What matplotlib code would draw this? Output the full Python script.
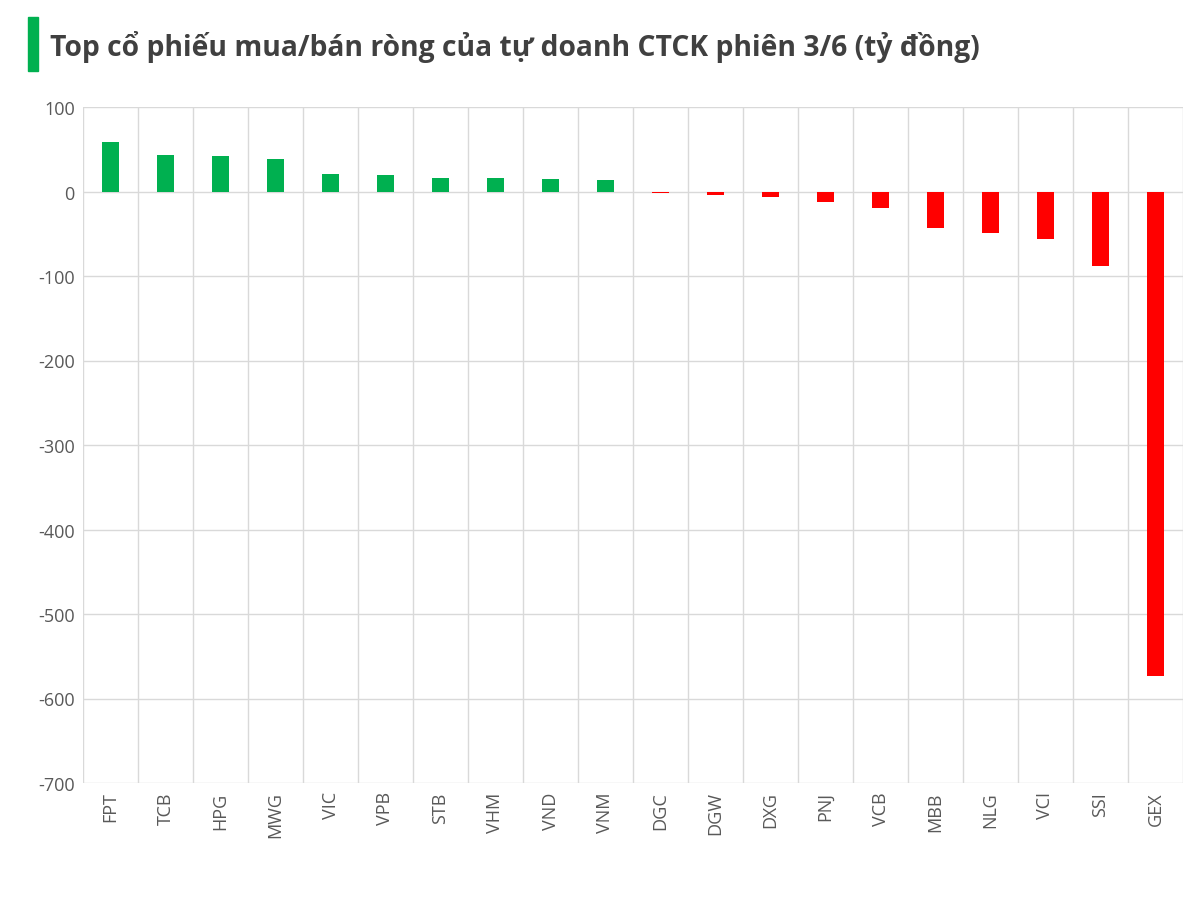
import matplotlib
matplotlib.use("Agg")
import matplotlib.pyplot as plt
from matplotlib.patches import Rectangle
import numpy as np

categories = ["FPT","TCB","HPG","MWG","VIC","VPB","STB","VHM","VND","VNM",
              "DGC","DGW","DXG","PNJ","VCB","MBB","NLG","VCI","SSI","GEX"]
values = [59,43,42,38,21,20,16,16,15,14,-2,-4,-6,-12,-20,-43,-49,-56,-88,-573]
yticks = [100,0,-100,-200,-300,-400,-500,-600,-700]

fig = plt.figure(figsize=(12.01,9.04), dpi=100)
ax = fig.add_axes([83/1201, 1-784/904, 1100/1201, 676/904])
x = np.arange(len(categories))
colors = ["#00B050" if v >= 0 else "#FF0000" for v in values]
ax.bar(x, values, width=0.32, color=colors, zorder=3)
ax.set_xlim(-0.5, len(categories)-0.5)
ax.set_ylim(-700, 100)
ax.set_yticks(yticks)
ax.set_yticklabels([str(t) for t in yticks], fontsize=13, color="#595959", fontfamily="Open Sans")
ax.set_xticks(x)
ax.set_xticklabels(categories, rotation=90, fontsize=13, color="#595959", fontfamily="Open Sans")
for b in np.arange(-0.5, len(categories), 1.0):
    ax.axvline(b, color="#D9D9D9", lw=1, zorder=1)
for t in yticks:
    ax.axhline(t, color="#D9D9D9", lw=1, zorder=1)
for s in ax.spines.values():
    s.set_visible(False)
ax.tick_params(length=0, pad=6)
fig.patches.append(Rectangle((28/1201, 1-72/904), 10/1201, 54/904, transform=fig.transFigure, color="#00B050"))
fig.text(50/1201, 1-47/904, "Top cổ phiếu mua/bán ròng của tự doanh CTCK phiên 3/6 (tỷ đồng)",
         fontsize=20.3, fontweight="bold", color="#404040", va="center", fontfamily="Open Sans")
fig.savefig("out.png", dpi=100)
